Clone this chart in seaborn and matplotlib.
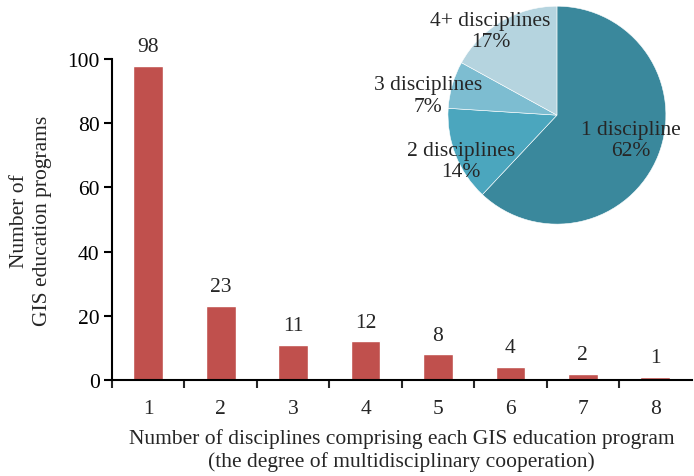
import matplotlib
matplotlib.use("Agg")
import matplotlib.pyplot as plt
import seaborn as sns
import numpy as np
import pandas as pd

categories = ["1", "2", "3", "4", "5", "6", "7", "8"]
counts = [98, 23, 11, 12, 8, 4, 2, 1]
pie_labels = ["1 discipline", "2 disciplines", "3 disciplines", "4+ disciplines"]
pie_values = [62, 14, 7, 17]
pie_colors = ["#3A889C", "#4BA6BE", "#7DBDD1", "#B5D4DF"]
bar_color = "#C0504D"

sns.set_theme(style="white")
plt.rcParams['font.family'] = ['Liberation Serif', 'DejaVu Serif']
FS = 15.5
plt.rcParams['font.size'] = FS

fig = plt.figure(figsize=(6.94, 4.77), dpi=100)
ax = fig.add_axes([0.1614, 0.2013, 0.835, 0.6726])

df = pd.DataFrame({"cat": categories, "n": counts})
sns.barplot(data=df, x="cat", y="n", color=bar_color, saturation=1, width=0.41, ax=ax)

ax.set_xlim(-0.5, 7.5)
ax.set_ylim(0, 100)
ax.set_yticks([0, 20, 40, 60, 80, 100])
ax.tick_params(axis='y', direction='out', length=6, width=1.5, labelsize=FS, pad=3, left=True, colors='black')
ax.set_xticks(np.arange(len(categories)))
ax.set_xticklabels(categories)
ax.set_xticks(np.arange(len(categories)) - 0.5, minor=True)
ax.tick_params(axis='x', which='major', length=0, labelsize=FS, pad=14)
ax.tick_params(axis='x', which='minor', direction='out', length=6, width=1.5, bottom=True)
for s in ['top', 'right']:
    ax.spines[s].set_visible(False)
for s in ['left', 'bottom']:
    ax.spines[s].set_visible(True)
    ax.spines[s].set_linewidth(1.5)
    ax.spines[s].set_color('black')

for i, v in enumerate(counts):
    ax.annotate(str(v), (i, v), xytext=(0, 7), textcoords='offset points',
                ha='center', va='bottom', fontsize=FS, annotation_clip=False)

ax.set_xlabel("Number of disciplines comprising each GIS education program\n(the degree of multidisciplinary cooperation)",
              fontsize=FS, labelpad=7, linespacing=1.2)
ax.set_ylabel("Number of\nGIS education programs", fontsize=FS, labelpad=11, linespacing=1.25)

pax = fig.add_axes([0.6455, 0.528, 0.314, 0.457])
pax.pie(pie_values, colors=pie_colors, startangle=90, counterclock=False,
        wedgeprops=dict(edgecolor='white', linewidth=0.4))
pax.set_xlim(-1.0, 1.0)
pax.set_ylim(-1.0, 1.0)
pax.set_aspect('equal')
pax.axis('off')

label_pos = [(0.68, -0.23), (-0.88, -0.42), (-1.18, 0.18), (-0.61, 0.77)]
for lab, val, (x, y) in zip(pie_labels, pie_values, label_pos):
    pax.text(x, y, f"{lab}\n{val}%", ha='center', va='center', fontsize=FS,
             linespacing=1.15, clip_on=False)

fig.savefig("out.png", dpi=100)
